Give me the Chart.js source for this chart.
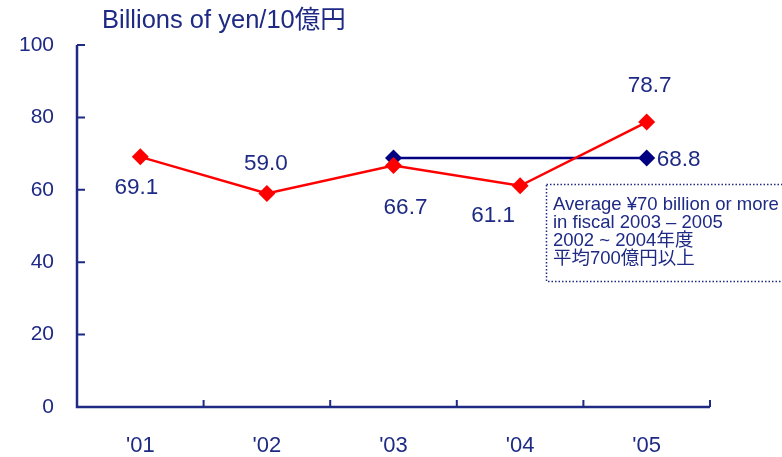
<!DOCTYPE html>
<html>
<head>
<meta charset="utf-8">
<script src="https://cdn.jsdelivr.net/npm/chart.js@4"></script>
<style>
  html, body { margin: 0; padding: 0; background: #fff; }
  canvas { display: block; }
</style>
</head>
<body>
<canvas id="chart" width="782" height="457"></canvas>
<script>
// Datos del grafico
const years = ["'01", "'02", "'03", "'04", "'05"];
const results = [69.1, 59.0, 66.7, 61.1, 78.7];
const average = [null, null, 68.8, null, 68.8];
const yTicks = [0, 20, 40, 60, 80, 100];

const titleText = "Billions of yen/10億円";
const noteLines = ["Average ¥70 billion or more", "in fiscal 2003 – 2005", "2002 ~ 2004年度", "平均700億円以上"];

// Posicion de las etiquetas respecto a cada punto (dx, dy)
const resultLabelOffsets = [[-4, 31], [-1, -30], [12, 42], [-27, 30], [3, -36]];

const NAVY = "#1e2a84";
const FONT = "'Liberation Sans', Arial, 'Noto Sans CJK JP', sans-serif";

// Plugin para ejes, etiquetas y nota
const decorations = {
    id: "decorations",
    afterDraw(chart) {
        const ctx = chart.ctx;
        const y = chart.scales.y;
        const area = chart.chartArea;
        ctx.save();

        // Ejes
        ctx.strokeStyle = NAVY;
        ctx.lineWidth = 2.5;
        ctx.beginPath();
        ctx.moveTo(area.left, area.top);
        ctx.lineTo(area.left, area.bottom);
        ctx.lineTo(area.right, area.bottom);
        ctx.stroke();

        ctx.lineWidth = 2;
        ctx.beginPath();
        yTicks.forEach(v => {
            const py = y.getPixelForValue(v);
            ctx.moveTo(area.left, py);
            ctx.lineTo(area.left + 8, py);
        });
        const step = (area.right - area.left) / years.length;
        for (let i = 1; i <= years.length; i++) {
            const px = area.left + i * step;
            ctx.moveTo(px, area.bottom);
            ctx.lineTo(px, area.bottom - 7);
        }
        ctx.stroke();

        // Titulo
        ctx.fillStyle = NAVY;
        ctx.font = "25.5px " + FONT;
        ctx.textAlign = "left";
        ctx.textBaseline = "middle";
        ctx.fillText(titleText, 102, 21);

        // Etiquetas de valores
        ctx.font = "22.5px " + FONT;
        ctx.textAlign = "center";
        const meta = chart.getDatasetMeta(0);
        meta.data.forEach((pt, i) => {
            const [dx, dy] = resultLabelOffsets[i];
            ctx.fillText(results[i].toFixed(1), pt.x + dx, pt.y + dy);
        });
        const avgMeta = chart.getDatasetMeta(1);
        const lastPt = avgMeta.data[average.length - 1];
        ctx.textAlign = "left";
        ctx.fillText(average[average.length - 1].toFixed(1), lastPt.x + 10, lastPt.y + 2);

        // Nota
        ctx.fillStyle = "#fff";
        ctx.fillRect(546, 184, 240, 98);
        ctx.setLineDash([1.5, 2]);
        ctx.lineWidth = 1.5;
        ctx.strokeStyle = NAVY;
        ctx.strokeRect(546.5, 184.5, 240, 97);
        ctx.setLineDash([]);
        ctx.fillStyle = NAVY;
        ctx.font = "18.5px " + FONT;
        ctx.textBaseline = "middle";
        noteLines.forEach((line, i) => ctx.fillText(line, 553, 205 + i * 18));

        ctx.restore();
    }
};

new Chart(document.getElementById("chart").getContext("2d"), {
    type: "line",
    data: {
        labels: years,
        datasets: [{
            data: results,
            borderColor: "#ff0000",
            backgroundColor: "#ff0000",
            borderWidth: 2.5,
            pointStyle: "rectRot",
            pointRadius: 8.5,
            pointBorderWidth: 0,
            tension: 0
        }, {
            data: average,
            spanGaps: true,
            borderColor: "#000080",
            backgroundColor: "#000080",
            borderWidth: 2.5,
            pointStyle: "rectRot",
            pointRadius: 8.5,
            pointBorderWidth: 0,
            tension: 0
        }]
    },
    options: {
        responsive: false,
        animation: false,
        layout: { padding: { top: 45, right: 72, left: 0, bottom: 0 } },
        plugins: {
            legend: { display: false },
            tooltip: { enabled: false },
            title: { display: false }
        },
        scales: {
            x: {
                offset: true,
                grid: { display: false },
                border: { display: false },
                ticks: { color: NAVY, font: { family: FONT, size: 22 }, padding: 18, maxRotation: 0 },
                afterFit(scale) { scale.height = 50; }
            },
            y: {
                min: 0,
                max: 100,
                grid: { display: false },
                border: { display: false },
                ticks: { stepSize: 20, color: NAVY, font: { family: FONT, size: 21 }, padding: 15 },
                afterFit(scale) { scale.width = 77; }
            }
        }
    },
    plugins: [decorations]
});
</script>
</body>
</html>
